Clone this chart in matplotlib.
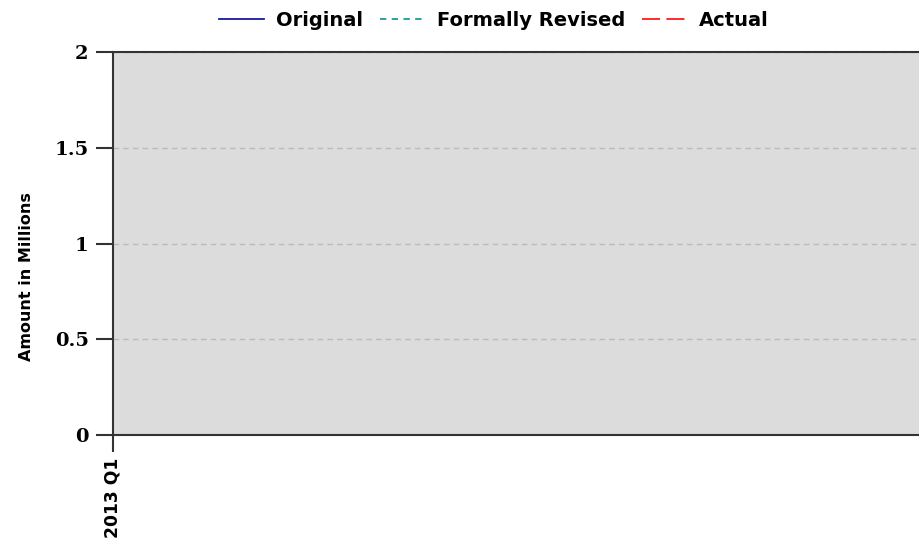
import matplotlib
matplotlib.use('Agg')
import matplotlib.pyplot as plt
import numpy as np

quarters = ['2013 Q1']
original = [np.nan]
formally_revised = [np.nan]
actual = [np.nan]
y_ticks = [0, 0.5, 1, 1.5, 2]
y_tick_labels = ['0', '0.5', '1', '1.5', '2']

fig = plt.figure(figsize=(9.2, 5.42), dpi=100)
ax = fig.add_axes([0.1228, 0.1974, 0.88, 0.7066])
ax.set_facecolor('#dcdcdc')

x = np.arange(len(quarters))
ax.plot(x, original, color='#1a1a9c', lw=1.3, label='Original')
ax.plot(x, formally_revised, color='#1a9a9a', lw=1.3, ls=(0, (3.5, 3)), label='Formally Revised')
ax.plot(x, actual, color='#ff1a1a', lw=1.3, ls=(0, (10, 3.5)), label='Actual')

ax.set_xlim(0, 1)
ax.set_ylim(0, 2)
ax.set_xticks(x)
ax.set_xticklabels(quarters, rotation=90, fontsize=12.3, fontweight='bold')
ax.set_yticks(y_ticks)
ax.set_yticklabels(y_tick_labels, fontsize=14, fontweight='bold', family='DejaVu Serif')
ax.tick_params(axis='both', direction='out', length=12.5, width=1.5, color='#333333')
ax.tick_params(axis='x', pad=4)
ax.tick_params(axis='y', pad=5)

ax.grid(axis='y', color='#bbbbbb', ls=(0, (4, 3)), lw=1)
ax.set_axisbelow(True)

for s in ['left', 'top', 'bottom']:
    ax.spines[s].set_color('#333333')
    ax.spines[s].set_linewidth(1.5)
ax.spines['right'].set_visible(False)

ax.set_ylabel('Amount in Millions', fontsize=11.5, fontweight='bold')
ax.yaxis.set_label_coords(-0.098, 0.415)

fig.legend(loc='center', bbox_to_anchor=(0.537, 0.963), ncol=3, frameon=False,
           prop={'weight': 'bold', 'size': 14}, handlelength=2.3, columnspacing=0.85,
           handletextpad=0.65)

fig.savefig('out.png', dpi=100)
